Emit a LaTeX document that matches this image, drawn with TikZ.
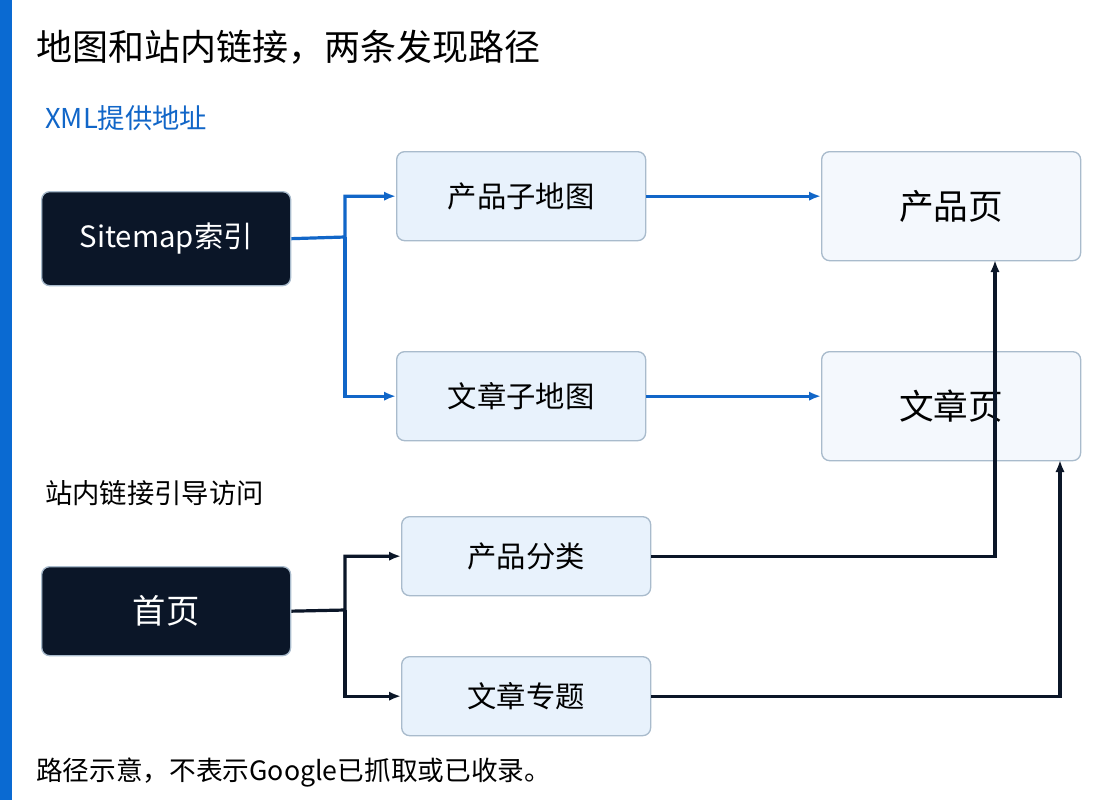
\documentclass[tikz,border=0pt]{standalone}
\usepackage{fontspec}
\setmainfont{Noto Sans CJK SC}
\usetikzlibrary{arrows.meta}
\definecolor{bar}{HTML}{0A6AD2}
\definecolor{dk}{HTML}{0B1628}
\definecolor{sub}{HTML}{E8F2FC}
\definecolor{pg}{HTML}{F4F8FD}
\definecolor{bd}{HTML}{A9BBCC}
\definecolor{bl}{HTML}{1166C8}
\begin{document}
\begin{tikzpicture}[x=0.75pt,y=-0.75pt,
 box/.style={draw=bd,line width=1pt,rounded corners=6pt,anchor=north west,inner sep=0,font=\fontsize{22}{22}\selectfont},
 dark/.style={box,fill=dk,text=white},
 sb/.style={box,fill=sub,text=black},
 pgs/.style={box,fill=pg,text=black,font=\fontsize{26}{26}\selectfont},
 bc/.style={draw=bl,line width=2.4pt,-{Latex[length=9pt,width=7pt]}},
 kc/.style={draw=dk,line width=2.4pt,-{Latex[length=9pt,width=7pt]}},
 lab/.style={anchor=west,inner sep=0}]
\useasboundingbox (0,0) rectangle (1120,800);
\fill[white] (0,0) rectangle (1120,800);
\fill[bar] (0,0) rectangle (12,800);
\node[lab,font=\fontsize{27}{27}\selectfont] (t) at (36,47) {地图和站内链接，两条发现路径};
\node[lab,text=bl,font=\fontsize{20.5}{20.5}\selectfont] (x) at (45,118) {XML提供地址};
\node[lab,font=\fontsize{20.5}{20.5}\selectfont] (z) at (45,493) {站内链接引导访问};
\node[lab,font=\fontsize{20}{20}\selectfont] (f) at (36,772) {路径示意，不表示Google已抓取或已收录。};
\node[dark,minimum width=186.75pt,minimum height=70.5pt] (s) at (41,191) {Sitemap索引};
\node[sb,minimum width=186.75pt,minimum height=66.75pt] (ps) at (396,151) {产品子地图};
\node[sb,minimum width=186.75pt,minimum height=66.75pt] (as) at (396,351) {文章子地图};
\node[pgs,minimum width=194.25pt,minimum height=81.75pt] (pp) at (821,151) {产品页};
\node[pgs,minimum width=194.25pt,minimum height=81.75pt] (ap) at (821,351) {文章页};
\node[dark,minimum width=186.75pt,minimum height=66.75pt,font=\fontsize{25}{25}\selectfont] (h) at (41,566) {首页};
\node[sb,minimum width=186.75pt,minimum height=59.25pt] (pc) at (401,516) {产品分类};
\node[sb,minimum width=186.75pt,minimum height=59.25pt] (at) at (401,656) {文章专题};
\coordinate (j1) at (345,237);
\coordinate (j2) at (345,610);
\draw[bc] (s.east) -- (j1) |- (ps.west);
\draw[bc] (j1) |- (as.west);
\draw[bc] (ps.east) -- (pp.west |- ps.east);
\draw[bc] (as.east) -- (ap.west |- as.east);
\draw[kc] (h.east) -- (j2) |- (pc.west);
\draw[kc] (j2) |- (at.west);
\draw[kc] (pc.east) -| (995,260);
\draw[kc] (at.east) -| (1060,460);
\end{tikzpicture}
\end{document}
